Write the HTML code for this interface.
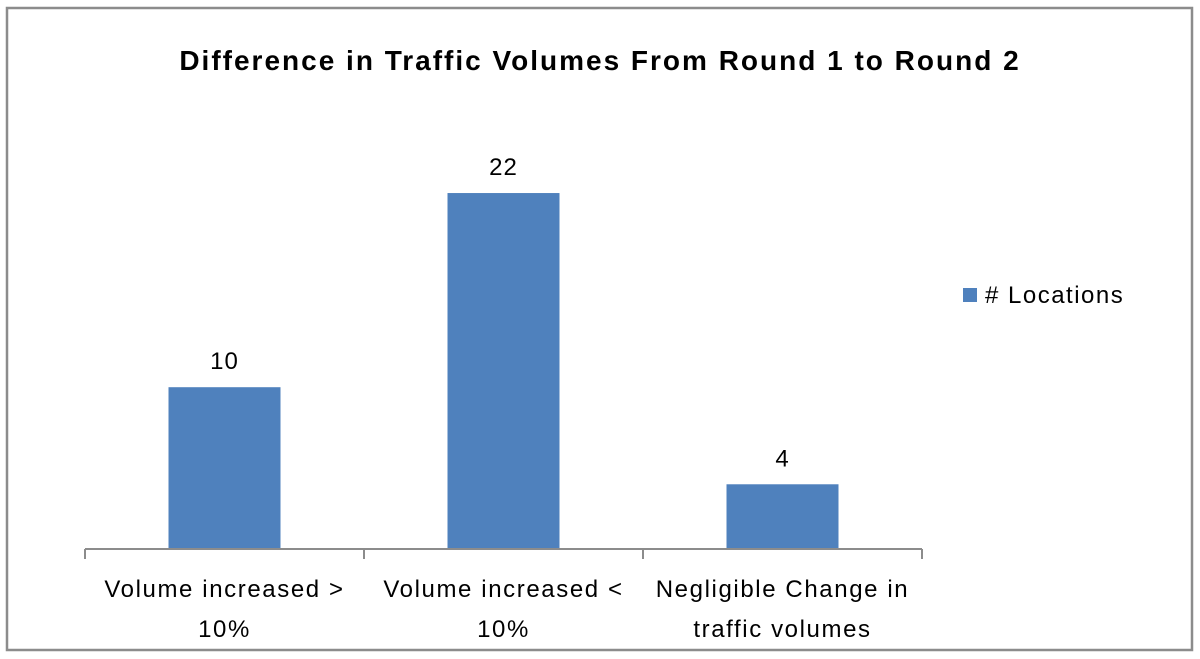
<!DOCTYPE html>
<html><head><meta charset="utf-8"><style>
body{margin:0;background:#fff;}
svg text{font-family:"Liberation Sans",sans-serif;fill:#000;}
</style></head><body>
<svg width="1200" height="654">
<rect x="7" y="8" width="1185" height="642" fill="#fff" stroke="#8c8c8c" stroke-width="2.5"/>
<text x="600" y="70" text-anchor="middle" font-size="28" font-weight="bold" letter-spacing="2">Difference in Traffic Volumes From Round 1 to Round 2</text>
<g id="plot"></g>
<rect x="963" y="288" width="14" height="14" fill="#4f81bd"/>
<text x="985" y="303" font-size="24" letter-spacing="1.5"># Locations</text>
</svg>
<script>
const categories=[["Volume increased >","10%"],["Volume increased <","10%"],["Negligible Change in","traffic volumes"]];
const values=[10,22,4];
const labels=["10","22","4"];
const ns="http://www.w3.org/2000/svg";
const g=document.getElementById('plot');
const x0=85,x1=922,base=549,pxPerUnit=16.18;
const step=(x1-x0)/categories.length;
const y=v=>base-v*pxPerUnit;
function mk(t,a){const e=document.createElementNS(ns,t);for(const k in a)e.setAttribute(k,a[k]);g.appendChild(e);return e;}
values.forEach((v,i)=>{
 const cx=x0+step*(i+0.5);
 const b=mk('rect',{x:cx-56,y:y(v),width:112,height:base-y(v),fill:'#4f81bd'});
 
 
 const t=mk('text',{x:cx,y:y(v)-18,'text-anchor':'middle','font-size':'24','letter-spacing':'1'});
 t.textContent=labels[i];
 
 
 categories[i].forEach((line,j)=>{
  const c=mk('text',{x:cx,y:597+j*40,'text-anchor':'middle','font-size':'24','letter-spacing':'1.6'});
  c.textContent=line;
  
  
 });
});
const ax=mk('line',{x1:x0,y1:base,x2:x1,y2:base,stroke:'#8c8c8c','stroke-width':2});


for(let i=0;i<=categories.length;i++){
 const tx=x0+step*i;
 const tk=mk('line',{x1:tx,y1:base,x2:tx,y2:base+10,stroke:'#8c8c8c','stroke-width':2});
 
 
}
</script>
</body></html>
